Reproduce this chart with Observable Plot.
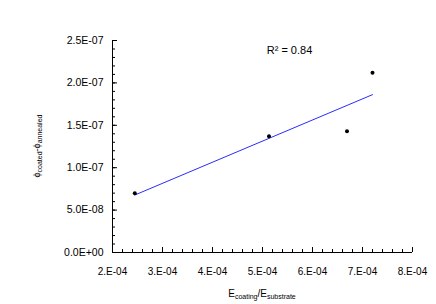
<!DOCTYPE html>
<html><head><meta charset="utf-8">
<script src="https://cdn.jsdelivr.net/npm/d3@7"></script>
<script src="https://cdn.jsdelivr.net/npm/@observablehq/plot@0.6"></script>
<style>body{margin:0;background:#fff}</style>
</head><body><div id="chart"></div>
<script>
// Data
const stiffnessRatio = [2.446e-4, 5.13e-4, 6.69e-4, 7.20e-4];   // E_coating / E_substrate
const phiDifference  = [7.0e-8, 1.37e-7, 1.43e-7, 2.12e-7];      // phi_coated - phi_annealed
const xTicks = [2e-4, 3e-4, 4e-4, 5e-4, 6e-4, 7e-4, 8e-4];
const yTicks = [0, 5e-8, 1e-7, 1.5e-7, 2e-7, 2.5e-7];
const xMinorTicks = d3.range(0, 31).map(i => 2e-4 + i * 2e-5);
const yMinorTicks = d3.range(0, 26).map(i => i * 1e-8);
const r2Label = ["R² = 0.84"];
const r2Position = {x: 5.54e-4, y: 2.38e-7};

const rows = stiffnessRatio.map((x, i) => ({x, y: phiDifference[i]}));

function expFmt(d, digits) {
  const [m, e] = d.toExponential(digits).split("e");
  const n = +e;
  return (m.includes(".") ? m : m + ".") + "E" + (n < 0 ? "-" : "+") + String(Math.abs(n)).padStart(2, "0");
}

const plot = Plot.plot({
  width: 436,
  height: 304,
  marginLeft: 112,
  marginRight: 24,
  marginTop: 40,
  marginBottom: 52,
  style: {fontFamily: "'Liberation Sans', Arial, sans-serif", fontSize: "10px", background: "white", color: "black"},
  x: {domain: [2e-4, 8e-4], label: null},
  y: {domain: [0, 2.5e-7], label: null},
  marks: [
    Plot.axisY(yMinorTicks, {tickSize: -3, tickFormat: () => "", label: null}),
    Plot.axisY(yTicks, {tickSize: -5, tickFormat: () => "", label: null}),
    Plot.axisY(yTicks, {tickSize: 0, tickPadding: 9, tickFormat: d => expFmt(d, 1), label: null, fontSize: 10.5}),
    Plot.axisX(xMinorTicks, {tickSize: -3, tickFormat: () => "", label: null}),
    Plot.axisX(xTicks, {tickSize: -5, tickFormat: () => "", label: null}),
    Plot.axisX(xTicks, {tickSize: 0, tickPadding: 15, tickFormat: d => expFmt(d, 0), label: null, fontSize: 10}),
    Plot.ruleX([2e-4], {stroke: "black"}),
    Plot.ruleY([0], {stroke: "black"}),
    Plot.linearRegressionY(rows, {x: "x", y: "y", stroke: "#2b2bff", strokeWidth: 1, ci: 0}),
    Plot.dot(rows, {x: "x", y: "y", r: 2, fill: "black", stroke: "none"}),
    Plot.text(r2Label, {x: () => r2Position.x, y: () => r2Position.y, text: d => d, fontSize: 11, fill: "black"})
  ]
});

document.getElementById("chart").appendChild(plot);

// Axis titles with subscripts, placed from the scales
const svg = d3.select(plot);
const xr = plot.scale("x").range;
const yr = plot.scale("y").range;
const xMid = (xr[0] + xr[1]) / 2;
const yMid = (yr[0] + yr[1]) / 2;

function addLabel(parts, attrs) {
  const t = svg.append("text")
    .attr("fill", "black")
    .attr("font-family", "'Liberation Sans', Arial, sans-serif")
    .attr("font-size", 10)
    .attr("text-anchor", "middle");
  for (const [k, v] of Object.entries(attrs)) t.attr(k, v);
  let sub = false;
  for (const [txt, isSub] of parts) {
    const s = t.append("tspan").text(txt);
    if (isSub && !sub) { s.attr("dy", 2).attr("font-size", 7); }
    else if (!isSub && sub) { s.attr("dy", -2); }
    else if (isSub) { s.attr("font-size", 7); }
    sub = isSub;
  }
  return t;
}

addLabel([["E", false], ["coating", true], ["/E", false], ["substrate", true]],
  {x: xMid, y: yr[0] + 45});
addLabel([["ϕ", false], ["coated", true], ["-ϕ", false], ["annealed", true]],
  {transform: `translate(${xr[0] - 72},${yMid}) rotate(-90)`, "font-size": 9});
</script>
</body></html>
